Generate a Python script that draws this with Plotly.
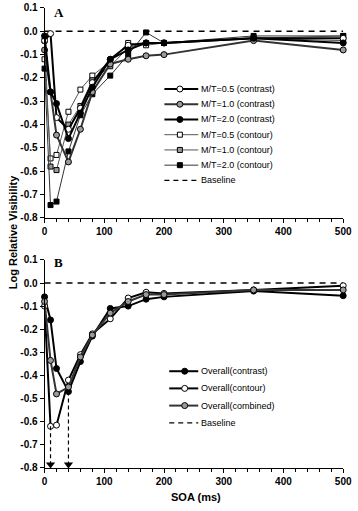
import plotly.graph_objects as go

# ---------------- data ----------------
soa = [0, 10, 20, 40, 60, 80, 110, 140, 170, 200, 350, 500]

# Panel A
mt05_contrast = [-0.04, -0.01, -0.37, -0.42, -0.33, -0.22, -0.12, -0.06, -0.05, -0.05, -0.03, -0.03]
mt10_contrast = [-0.08, -0.26, -0.445, -0.56, -0.42, -0.26, -0.14, -0.12, -0.105, -0.10, -0.04, -0.08]
mt20_contrast = [-0.02, -0.26, -0.31, -0.46, -0.35, -0.24, -0.12, -0.08, -0.05, -0.05, -0.03, -0.05]
mt05_contour = [-0.12, -0.545, -0.53, -0.345, -0.25, -0.19, -0.13, -0.05, -0.06, -0.05, -0.03, -0.02]
mt10_contour = [-0.04, -0.58, -0.595, -0.40, -0.32, -0.21, -0.15, -0.07, -0.05, -0.05, -0.03, -0.04]
mt20_contour = [-0.16, -0.745, -0.73, -0.515, -0.36, -0.27, -0.19, -0.10, -0.005, -0.05, -0.02, -0.02]

# Panel B
overall_contrast = [-0.06, -0.16, -0.37, -0.47, -0.34, -0.23, -0.11, -0.10, -0.07, -0.06, -0.035, -0.055]
overall_contour = [-0.10, -0.62, -0.615, -0.42, -0.31, -0.22, -0.155, -0.065, -0.04, -0.045, -0.03, -0.012]
overall_combined = [-0.08, -0.335, -0.48, -0.45, -0.32, -0.225, -0.13, -0.08, -0.05, -0.05, -0.03, -0.03]

baseline_x = [0, 500]
baseline_y = [0, 0]

names_a = ["M/T=0.5 (contrast)", "M/T=1.0 (contrast)", "M/T=2.0 (contrast)",
           "M/T=0.5 (contour)", "M/T=1.0 (contour)", "M/T=2.0 (contour)", "Baseline"]
names_b = ["Overall(contrast)", "Overall(contour)", "Overall(combined)", "Baseline"]

y_ticks = [0.1, 0.0, -0.1, -0.2, -0.3, -0.4, -0.5, -0.6, -0.7, -0.8]
y_ticktext = ["%.1f" % v if v >= 0 else "-%.1f" % abs(v) for v in y_ticks]
x_ticks = [0, 100, 200, 300, 400, 500]

# ---------------- styles ----------------
W, H = 358, 511
def fx(px):
    return px / W
def fy(py):
    return 1 - py / H

FILL = {"white": "white", "gray": "#9a9a9a", "black": "black"}
TICKFONT = dict(family="Liberation Sans Narrow, Arial Narrow, sans-serif", size=10, color="black", weight="bold")
LEGFONT = dict(family="Liberation Sans Narrow, Arial Narrow, sans-serif", size=9, color="black")

styles_a = [
    dict(sym="circle", fill="white", lw=2.0, lc="black", ms=6),
    dict(sym="circle", fill="gray", lw=2.0, lc="#333", ms=6),
    dict(sym="circle", fill="black", lw=2.0, lc="black", ms=6),
    dict(sym="square", fill="white", lw=1.0, lc="#555", ms=5),
    dict(sym="square", fill="gray", lw=1.0, lc="#555", ms=5),
    dict(sym="square", fill="black", lw=1.0, lc="#333", ms=5),
]
styles_b = [
    dict(sym="circle", fill="black", lw=2.0, lc="black", ms=6),
    dict(sym="circle", fill="white", lw=2.0, lc="black", ms=6),
    dict(sym="circle", fill="gray", lw=2.0, lc="#333", ms=6),
]

fig = go.Figure()

def add_series(x, y, st, xa, ya):
    fig.add_trace(go.Scatter(
        x=x, y=y, mode="lines+markers", xaxis=xa, yaxis=ya, showlegend=False,
        line=dict(color=st["lc"], width=st["lw"]),
        marker=dict(symbol=st["sym"], size=st["ms"], color=FILL[st["fill"]],
                    line=dict(color="black", width=1)),
        cliponaxis=False,
    ))

# baselines
for xa, ya in [("x", "y"), ("x2", "y2")]:
    fig.add_trace(go.Scatter(x=baseline_x, y=baseline_y, mode="lines", xaxis=xa, yaxis=ya,
                             showlegend=False, line=dict(color="black", width=1.5, dash="6px,5px")))

series_a = [mt05_contrast, mt10_contrast, mt20_contrast, mt05_contour, mt10_contour, mt20_contour]
# draw thin contour first, then thick contrast
for i in [3, 4, 5, 0, 1, 2]:
    add_series(soa, series_a[i], styles_a[i], "x", "y")

series_b = [overall_contrast, overall_contour, overall_combined]
for i in range(3):
    add_series(soa, series_b[i], styles_b[i], "x2", "y2")

# arrows in panel B: from minima of contour and contrast down to the axis
for s in [overall_contour, overall_contrast]:
    k = s.index(min(s))
    fig.add_trace(go.Scatter(x=[soa[k], soa[k]], y=[s[k], -0.79], mode="lines", xaxis="x2", yaxis="y2",
                             showlegend=False, line=dict(color="black", width=1.2, dash="4px,3px")))
    fig.add_trace(go.Scatter(x=[soa[k]], y=[-0.785], mode="markers", xaxis="x2", yaxis="y2",
                             showlegend=False, cliponaxis=False,
                             marker=dict(symbol="triangle-down", size=8, color="black")))

# ---------------- manual legends (pixel overlay axis) ----------------
def legend(names, styles, x0, x1, y0, dy, mx):
    for j, nm in enumerate(names):
        yy = y0 + j * dy
        if j < len(styles):
            st = styles[j]
            fig.add_trace(go.Scatter(x=[x0, x1], y=[yy, yy], mode="lines", xaxis="x3", yaxis="y3",
                                     showlegend=False, hoverinfo="skip",
                                     line=dict(color=st["lc"], width=st["lw"])))
            fig.add_trace(go.Scatter(x=[mx], y=[yy], mode="markers", xaxis="x3", yaxis="y3",
                                     showlegend=False, hoverinfo="skip", cliponaxis=False,
                                     marker=dict(symbol=st["sym"], size=st["ms"], color=FILL[st["fill"]],
                                                 line=dict(color="black", width=1))))
        else:
            fig.add_trace(go.Scatter(x=[x0, x1], y=[yy, yy], mode="lines", xaxis="x3", yaxis="y3",
                                     showlegend=False, hoverinfo="skip",
                                     line=dict(color="black", width=1.3, dash="5px,4px")))
        fig.add_annotation(x=fx(x1 + 1), y=fy(yy), xref="paper", yref="paper", text=nm,
                           showarrow=False, xanchor="left", yanchor="middle", font=LEGFONT)

legend(names_a, styles_a, 167, 202, 85, 15.6, 183)
legend(names_b, styles_b, 172, 202, 374, 17.6, 188)

# ---------------- text ----------------
fig.add_annotation(x=fx(51), y=fy(7), xref="paper", yref="paper", text="<b>A</b>", showarrow=False,
                   xanchor="left", yanchor="middle", font=dict(family="Liberation Serif, Times New Roman", size=13, color="black"))
fig.add_annotation(x=fx(51), y=fy(263), xref="paper", yref="paper", text="<b>B</b>", showarrow=False,
                   xanchor="left", yanchor="middle", font=dict(family="Liberation Serif, Times New Roman", size=13, color="black"))
fig.add_annotation(x=fx(10), y=fy(232), xref="paper", yref="paper", text="<b>Log Relative Visibility</b>",
                   showarrow=False, textangle=-90, xanchor="center", yanchor="middle",
                   font=dict(family="Liberation Sans, Arial", size=11, color="black"))
fig.add_annotation(x=fx(200), y=fy(503), xref="paper", yref="paper", text="<b>SOA (ms)</b>",
                   showarrow=False, xanchor="center", yanchor="middle",
                   font=dict(family="Liberation Sans, Arial", size=11, color="black"))

# ---------------- axes ----------------
xdom = [fx(43), fx(352)]
xcommon = dict(range=[0, 500], domain=xdom, tickvals=x_ticks, ticks="outside", ticklen=4,
               tickwidth=1, tickcolor="black", showline=True, linecolor="black", linewidth=1,
               showgrid=False, zeroline=False, tickfont=TICKFONT, ticklabeloverflow="allow",
               minor=dict(dtick=20, ticks="outside", ticklen=3, tickcolor="black"))
ycommon = dict(range=[-0.8, 0.1], tickvals=y_ticks, ticktext=y_ticktext, ticks="outside", ticklen=4,
               tickwidth=1, tickcolor="black", showline=True, linecolor="black", linewidth=1,
               showgrid=False, zeroline=False, tickfont=TICKFONT, ticklabeloverflow="allow")

fig.update_layout(
    width=W, height=H, margin=dict(l=0, r=0, t=0, b=0),
    paper_bgcolor="white", plot_bgcolor="rgba(0,0,0,0)",
    showlegend=False,
    xaxis=dict(**xcommon, anchor="y"),
    yaxis=dict(**ycommon, domain=[fy(217), fy(2)], anchor="x"),
    xaxis2=dict(**xcommon, anchor="y2"),
    yaxis2=dict(**ycommon, domain=[fy(473), fy(260)], anchor="x2"),
    xaxis3=dict(range=[0, W], domain=[0, 1], visible=False, anchor="y3", fixedrange=True),
    yaxis3=dict(range=[H, 0], domain=[0, 1], visible=False, anchor="x3", fixedrange=True),
)

fig.write_html("out.html")
